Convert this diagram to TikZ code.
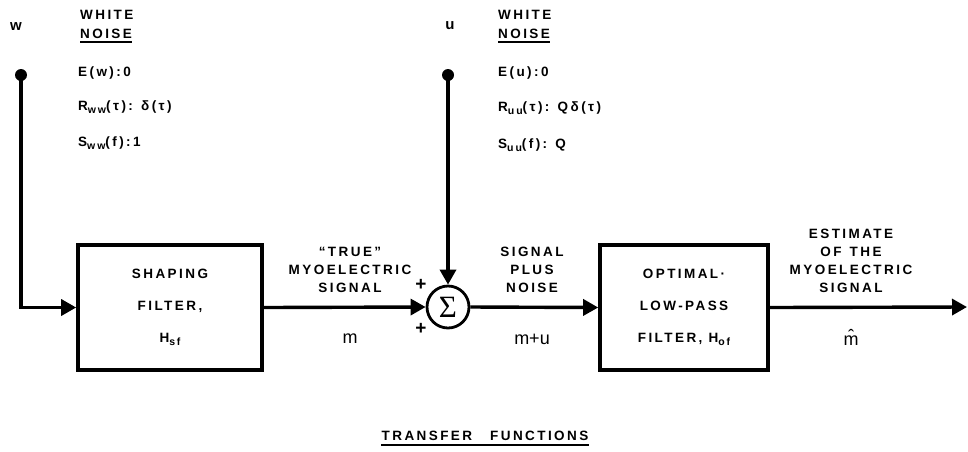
\documentclass[tikz,border=0pt]{standalone}
\usepackage{fontspec}
\setmainfont{Liberation Sans}[BoldFont={Liberation Sans Bold}]
\newfontfamily\lettering{Liberation Sans Bold}[LetterSpace=18]
\newfontfamily\plainletter{Liberation Sans}
\newfontfamily\sigmafont{Liberation Serif}
\usetikzlibrary{arrows.meta}
\newcommand\lowsub[1]{\raisebox{-0.45ex}{\fontsize{10.5}{10.5}\selectfont #1}}
\tikzset{
  lbl/.style={font=\lettering\fontsize{13.5}{18}\selectfont, inner sep=0pt, align=center},
  lbll/.style={lbl, anchor=west, align=left},
  varlbl/.style={lbl, font=\plainletter\fontsize{18}{18}\selectfont},
  blk/.style={draw, line width=3.6pt, minimum height=125pt, inner sep=0pt,
              font=\lettering\fontsize{13.5}{18}\selectfont, align=center},
  wire/.style={line width=3.4pt},
  arr/.style={wire, -{Triangle[length=15pt,width=16pt]}},
  src/.style={circle, fill, inner sep=0pt, minimum size=12pt},
  sumnode/.style={circle, draw, line width=2.8pt, minimum size=42pt, inner sep=0pt,
                  font=\sigmafont\fontsize{31}{31}\selectfont},
  rule/.style={line width=1.8pt}
}
\begin{document}
\begin{tikzpicture}[x=1pt,y=-1pt]
\useasboundingbox (0,0) rectangle (968,451);

% white noise source w
\node[lbl, font=\lettering\fontsize{15}{15}\selectfont] (wlab) at (16,27) {w};
\node[lbll] (white1) at (80,15) {WHITE};
\node[lbll] (noise1) at (80,34) {NOISE};
\draw[rule] ([yshift=-3pt]noise1.south west) -- ([yshift=-3pt]noise1.south east);
\node[lbll] (ew) at (78,73) {E(w):0};
\node[lbll] (rw) at (78,107) {R\lowsub{ww}(τ): δ(τ)};
\node[lbll] (sw) at (78,143) {S\lowsub{ww}(f):1};
\node[src] (wdot) at (21,75) {};

% white noise source u
\node[lbl, font=\lettering\fontsize{15}{15}\selectfont] (ulab) at (450,26) {u};
\node[lbll] (white2) at (498,15) {WHITE};
\node[lbll] (noise2) at (498,34) {NOISE};
\draw[rule] ([yshift=-3pt]noise2.south west) -- ([yshift=-3pt]noise2.south east);
\node[lbll] (eu) at (498,73) {E(u):0};
\node[lbll] (ru) at (498,108) {R\lowsub{uu}(τ): Qδ(τ)};
\node[lbll] (su) at (498,145) {S\lowsub{uu}(f): Q};
\node[src] (udot) at (448,75) {};

% blocks
\node[blk, minimum width=184pt] (shape) at (170,307.5)
  {SHAPING\\[14pt]FILTER,\\[14pt]H\lowsub{sf}};
\node[sumnode] (sum) at (448,307) {\raisebox{-1pt}{Σ}};
\node[blk, minimum width=168pt] (opt) at (684,307.5)
  {OPTIMAL·\\[14pt]LOW-PASS\\[14pt]FILTER, H\lowsub{of}};
\coordinate (out) at (967,307);

% signal labels
\node[lbl] (plus1) at (421,285) {\fontsize{19}{19}\selectfont +};
\node[lbl] (plus2) at (421,329) {\fontsize{19}{19}\selectfont +};
\node[lbl, anchor=south] (truelab) at (350,293) {“TRUE”\\MYOELECTRIC\\SIGNAL};
\node[varlbl] (mlab) at (350,339) {m};
\node[lbl, anchor=south] (snlab) at (532,293) {SIGNAL\\PLUS\\NOISE};
\node[varlbl] (mulab) at (532,339) {m+u};
\node[lbl, anchor=south] (estlab) at (851,293) {ESTIMATE\\OF\hspace{8pt}THE\\MYOELECTRIC\\SIGNAL};
\node[varlbl] (mhat) at (851,337) {\^{m}};

% connectors
\draw[arr] (wdot.center) |- (shape.west);
\draw[arr] (udot.center) -- (sum.north);
\draw[arr] (shape.east) -- (sum.west);
\draw[arr] (sum.east) -- (opt.west);
\draw[arr] (opt.east) -- (out);

% caption
\node[lbl] (cap) at (485,436) {TRANSFER\hspace{18pt}FUNCTIONS};
\draw[rule] ([yshift=-4pt]cap.south west) -- ([yshift=-4pt]cap.south east);
\end{tikzpicture}
\end{document}
